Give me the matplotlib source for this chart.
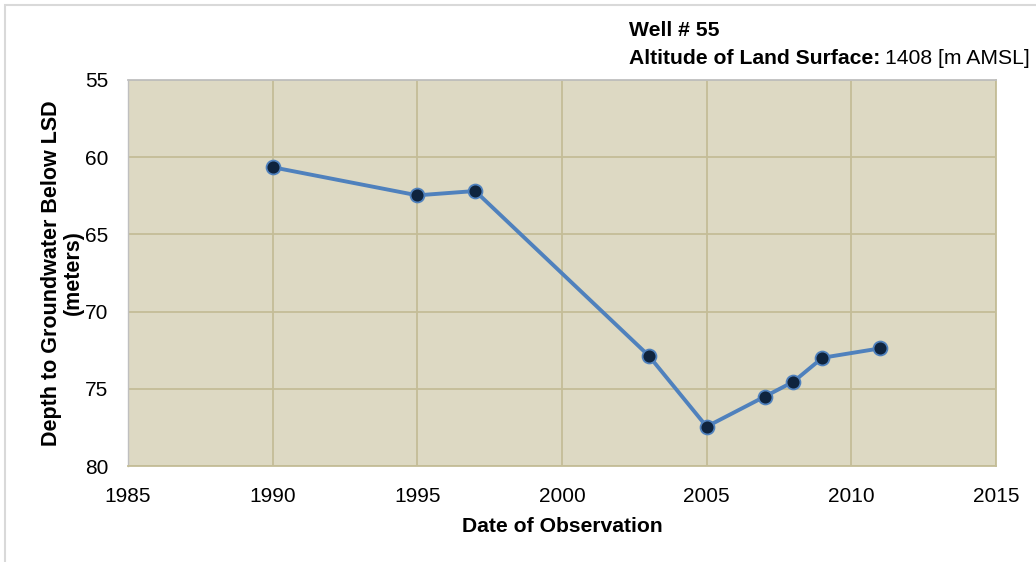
import matplotlib as mpl
mpl.use('Agg')
import matplotlib.pyplot as plt
from matplotlib.patches import Rectangle

plt.rcParams['font.family'] = ['Liberation Sans', 'DejaVu Sans']

# depth to water observations, well 55
years = [1990, 1995, 1997, 2003, 2005, 2007, 2008, 2009, 2011]
depth = [60.65, 62.47, 62.19, 72.86, 77.45, 75.51, 74.54, 72.99, 72.38]

x_ticks = [1985, 1990, 1995, 2000, 2005, 2010, 2015]
y_ticks = [55, 60, 65, 70, 75, 80]

bg = '#DDD9C3'
grid_col = '#C4BD97'

fig = plt.figure(figsize=(10.36, 5.62), dpi=100)
fig.patches.append(Rectangle((5 / 1036, -0.1), 1.2, 1.1 - 5 / 562,
                             transform=fig.transFigure, fill=False,
                             edgecolor='#D9D9D9', linewidth=1.5))
ax = fig.add_axes([128 / 1036, 1 - 466 / 562, (996 - 128) / 1036, (466 - 80) / 562])
ax.set_facecolor(bg)

ax.plot(years, depth, color='#4F81BD', linewidth=2.8, marker='o',
        markersize=10, markerfacecolor='#0F243E', markeredgecolor='#4F81BD',
        markeredgewidth=1.3, zorder=3)

ax.set_xlim(1985, 2015)
ax.set_ylim(80, 55)
ax.set_xticks(x_ticks)
ax.set_yticks(y_ticks)
ax.grid(True, color=grid_col, linewidth=1.3)
ax.set_axisbelow(True)
ax.tick_params(length=0, labelsize=15)
ax.tick_params(axis='x', pad=15)
ax.tick_params(axis='y', pad=14)
for s in ['top', 'right', 'bottom']:
    ax.spines[s].set_color(grid_col)
    ax.spines[s].set_linewidth(1.3)
ax.spines['left'].set_color('#BFBFBF')
ax.spines['left'].set_linewidth(1.0)
ax.spines['top'].set_color('#BFBFBF')

ax.set_xlabel('Date of Observation', fontsize=15.2, fontweight='bold', labelpad=8)
ax.set_ylabel('Depth to Groundwater Below LSD\n(meters)', fontsize=15.5,
              fontweight='bold', labelpad=1, linespacing=1.05)

fig.text(629 / 1036, 1 - 31 / 562, 'Well # 55', fontsize=15.2, fontweight='bold',
         va='center', ha='left')
t = fig.text(629 / 1036, 1 - 59 / 562, 'Altitude of Land Surface:', fontsize=15.2,
             fontweight='bold', va='center', ha='left')
fig.canvas.draw()
bb = t.get_window_extent()
fig.text((bb.x1 + 5) / 1036, 1 - 59 / 562, '1408 [m AMSL]', fontsize=15.2,
         va='center', ha='left')

fig.savefig('out.png', dpi=100)
